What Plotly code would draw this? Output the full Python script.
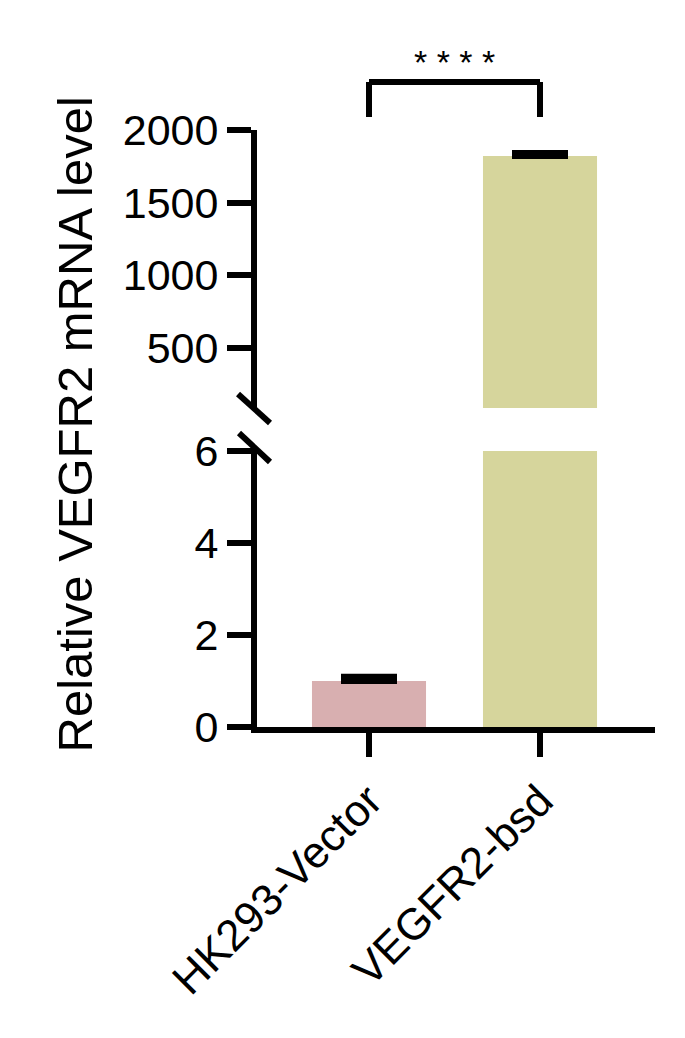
import plotly.graph_objects as go

categories = ["HK293-Vector", "VEGFR2-bsd"]
means = [1.0, 1821]
errors = [0.09, 20]
colors = ["#D8AFB0", "#D6D59C"]
low_ticks = [0, 2, 4, 6]
high_ticks = [500, 1000, 1500, 2000]
sig_label = "* * * *"
y_title = "Relative VEGFR2 mRNA level"

FONT = "Arial, Liberation Sans, Helvetica, sans-serif"

fig = go.Figure()
for yax in ["y", "y2"]:
    fig.add_trace(go.Bar(
        x=[0, 1], y=means, yaxis=yax, width=0.667,
        marker=dict(color=colors, line=dict(width=0)),
        error_y=dict(type="data", symmetric=False, array=errors,
                     arrayminus=[0, 0], color="black", thickness=6, width=28),
        showlegend=False,
    ))

axis_common = dict(showline=True, linecolor="black", linewidth=6,
                   ticks="outside", ticklen=24, tickwidth=6, tickcolor="black",
                   showgrid=False, zeroline=False)
tick_font = dict(family=FONT, size=43, color="black")

fig.update_layout(
    width=685, height=1038,
    margin=dict(l=249, r=38, t=122, b=319),
    plot_bgcolor="white", paper_bgcolor="white",
    barmode="overlay",
    xaxis=dict(range=[-0.655, 1.6725], tickvals=[0, 1], ticktext=categories,
               tickangle=-45, anchor="y", tickfont=dict(family=FONT, size=44, color="black"),
               **axis_common),
    yaxis=dict(domain=[0, 0.4623], range=[0, 6], tickvals=low_ticks,
               tickfont=tick_font, **axis_common),
    yaxis2=dict(domain=[0.5343, 1], range=[87, 2000], tickvals=high_ticks,
                anchor="x", tickfont=tick_font, **axis_common),
)

# axis break marks
line = dict(color="black", width=6)
fig.add_shape(type="line", xref="paper", yref="paper", x0=-0.0477, y0=0.5578, x1=0.0327, y1=0.5092, line=line)
fig.add_shape(type="line", xref="paper", yref="paper", x0=-0.0452, y0=0.4925, x1=0.0327, y1=0.4439, line=line)
# extension of the lower axis line up to the break
fig.add_shape(type="line", xref="paper", yref="paper", x0=-0.0075, y0=0.4623, x1=-0.0075, y1=0.4690, line=line)

# significance bracket
fig.add_shape(type="line", xref="x", yref="paper", x0=0, x1=0, y0=1.0218, y1=1.0804, line=line)
fig.add_shape(type="line", xref="x", yref="paper", x0=1, x1=1, y0=1.0218, y1=1.0804, line=line)
fig.add_shape(type="line", xref="x", yref="paper", x0=0, x1=1, y0=1.0804, y1=1.0804, line=line)
fig.add_annotation(x=0.5, xref="x", y=1.1139, yref="paper", text=sig_label, showarrow=False,
                   font=dict(family=FONT, size=34, color="black"), yanchor="middle")

fig.add_annotation(x=-0.4573, xref="paper", y=0.5067, yref="paper", text=y_title, textangle=-90,
                   showarrow=False, font=dict(family=FONT, size=49, color="black"),
                   xanchor="center", yanchor="middle")

fig.write_html("out.html")
